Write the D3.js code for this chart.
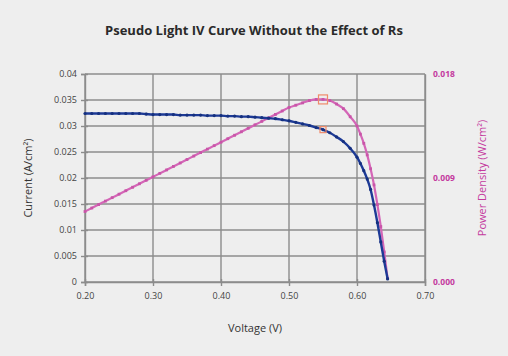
<!DOCTYPE html>
<html><head><meta charset="utf-8">
<script src="https://cdn.jsdelivr.net/npm/d3@7"></script>
<style>
body{margin:0;background:#eeeeee;}
svg{display:block;}
text{font-family:"Open Sans",sans-serif;}
</style></head>
<body><svg id="chart" width="508" height="356"></svg>
<script>
const title = "Pseudo Light IV Curve Without the Effect of Rs";
const xTitle = "Voltage (V)";
const yTitle = "Current (A/cm²)";
const y2Title = "Power Density (W/cm²)";

const voltage = [0.20,0.21,0.22,0.23,0.24,0.25,0.26,0.27,0.28,0.29,
  0.30,0.31,0.32,0.33,0.34,0.35,0.36,0.37,0.38,0.39,
  0.40,0.41,0.42,0.43,0.44,0.45,0.46,0.47,0.48,0.49,
  0.50,0.51,0.52,0.53,0.54,0.55,0.56,0.57,0.58,0.59,
  0.60,0.605,0.61,0.615,0.62,0.625,0.63,0.635,0.64,0.645];
const current = [0.0324,0.0324,0.0324,0.0324,0.0324,0.0324,0.0324,0.0324,0.0324,0.0323,
  0.0322,0.0322,0.0322,0.0322,0.0321,0.0321,0.0321,0.0321,0.0320,0.0320,
  0.0320,0.0319,0.0319,0.0318,0.0318,0.0317,0.0316,0.0315,0.0314,0.0312,
  0.0310,0.0307,0.0304,0.0301,0.0297,0.0293,0.0287,0.0279,0.0270,0.0257,
  0.0240,0.0228,0.0214,0.0198,0.0178,0.0148,0.0114,0.0077,0.0040,0.0006];
const power = [0.0061,0.0064,0.0067,0.0070,0.0073,0.0076,0.0079,0.0082,0.0085,0.0088,
  0.0091,0.0094,0.0097,0.0100,0.0103,0.0106,0.0109,0.0112,0.0115,0.0118,
  0.0121,0.0124,0.0127,0.0130,0.0133,0.0136,0.0139,0.0142,0.0145,0.0148,
  0.0151,0.0153,0.0155,0.0157,0.0158,0.0158,0.0157,0.0154,0.0150,0.0143,
  0.0135,0.0128,0.0120,0.0110,0.0098,0.0084,0.0067,0.0048,0.0026,0.0003];
const mppVoltage = 0.55;
const mppCurrent = 0.0293;
const mppPower = 0.0158;

const xTicks = [0.20,0.30,0.40,0.50,0.60,0.70];
const xTickLabels = ["0.20","0.30","0.40","0.50","0.60","0.70"];
const yTicks = [0,0.005,0.01,0.015,0.02,0.025,0.03,0.035,0.04];
const yTickLabels = ["0","0.005","0.01","0.015","0.02","0.025","0.03","0.035","0.04"];
const y2Ticks = [0,0.009,0.018];
const y2TickLabels = ["0.000","0.009","0.018"];

const blue = "#1d3a96", pink = "#d466b7", pinkText = "#c43a9e", grid = "#8c8c8c";
const svg = d3.select("#chart");
const x = d3.scaleLinear().domain([0.2,0.7]).range([85,425]);
const y = d3.scaleLinear().domain([0,0.04]).range([282,74]);
const y2 = d3.scaleLinear().domain([0,0.018]).range([282,74]);

// grid
svg.append("g").selectAll("line").data(yTicks).join("line")
  .attr("x1",x(0.2)).attr("x2",x(0.7)).attr("y1",d=>y(d)).attr("y2",d=>y(d))
  .attr("stroke",grid).attr("stroke-width",1.4);
svg.append("g").selectAll("line").data(xTicks).join("line")
  .attr("y1",y(0)).attr("y2",y(0.04)).attr("x1",d=>x(d)).attr("x2",d=>x(d))
  .attr("stroke",grid).attr("stroke-width",1.4);

// axes
const xAxis = svg.append("g").attr("transform",`translate(0,${y(0)})`)
  .call(d3.axisBottom(x).tickValues(xTicks).tickFormat((d,i)=>xTickLabels[i]).tickSize(4).tickPadding(7));
const yAxis = svg.append("g").attr("transform",`translate(${x(0.2)},0)`)
  .call(d3.axisLeft(y).tickValues(yTicks).tickFormat((d,i)=>yTickLabels[i]).tickSize(4).tickPadding(4));
const y2Axis = svg.append("g").attr("transform",`translate(${x(0.7)},0)`)
  .call(d3.axisRight(y2).tickValues(y2Ticks).tickFormat((d,i)=>y2TickLabels[i]).tickSize(0).tickPadding(8));
[xAxis,yAxis,y2Axis].forEach(g=>{
  g.select(".domain").attr("stroke",grid).attr("stroke-width",1.4);
  g.selectAll(".tick line").attr("stroke",grid).attr("stroke-width",1.4);
  g.selectAll("text").attr("font-size",9).attr("fill","#444");
});
xAxis.selectAll(".tick line").attr("y1",-3);
yAxis.selectAll(".tick line").attr("x1",3);
y2Axis.selectAll("text").attr("fill",pinkText).attr("font-weight","bold").attr("font-size",8.5);

// lines
const lineI = d3.line().curve(d3.curveMonotoneX).x((d,i)=>x(voltage[i])).y(d=>y(d));
const lineP = d3.line().curve(d3.curveMonotoneX).x((d,i)=>x(voltage[i])).y(d=>y2(d));
svg.append("path").attr("d",lineP(power)).attr("fill","none").attr("stroke",pink).attr("stroke-width",2.2);
svg.append("g").selectAll("rect").data(power).join("rect")
  .attr("x",(d,i)=>x(voltage[i])-1.4).attr("y",d=>y2(d)-1.4).attr("width",2.8).attr("height",2.8)
  .attr("fill","#c955a8");
svg.append("path").attr("d",lineI(current)).attr("fill","none").attr("stroke",blue).attr("stroke-width",2.4);
svg.append("g").selectAll("circle").data(current).join("circle")
  .attr("cx",(d,i)=>x(voltage[i])).attr("cy",d=>y(d)).attr("r",1.6).attr("fill","#15307f");

// max power point markers
svg.append("rect").attr("x",x(mppVoltage)-4.5).attr("y",y2(mppPower)-4.5).attr("width",9).attr("height",9)
  .attr("fill","none").attr("stroke","#f08a6a").attr("stroke-width",1.2);
svg.append("rect").attr("x",x(mppVoltage)-3).attr("y",y(mppCurrent)-3).attr("width",6).attr("height",6)
  .attr("fill","none").attr("stroke","#f08a6a").attr("stroke-width",1.2);

// titles
svg.append("text").attr("x",254).attr("y",35).attr("text-anchor","middle")
  .attr("font-size",13).attr("font-weight","bold").attr("fill","#2a2a2a").text(title);
svg.append("text").attr("x",255).attr("y",332).attr("text-anchor","middle")
  .attr("font-size",11).attr("fill","#333").text(xTitle);
svg.append("text").attr("transform","translate(32,178) rotate(-90)").attr("text-anchor","middle")
  .attr("font-size",11).attr("fill","#333").text(yTitle);
svg.append("text").attr("transform","translate(486,178) rotate(-90)").attr("text-anchor","middle")
  .attr("font-size",11).attr("fill",pinkText).text(y2Title);
</script></body></html>
